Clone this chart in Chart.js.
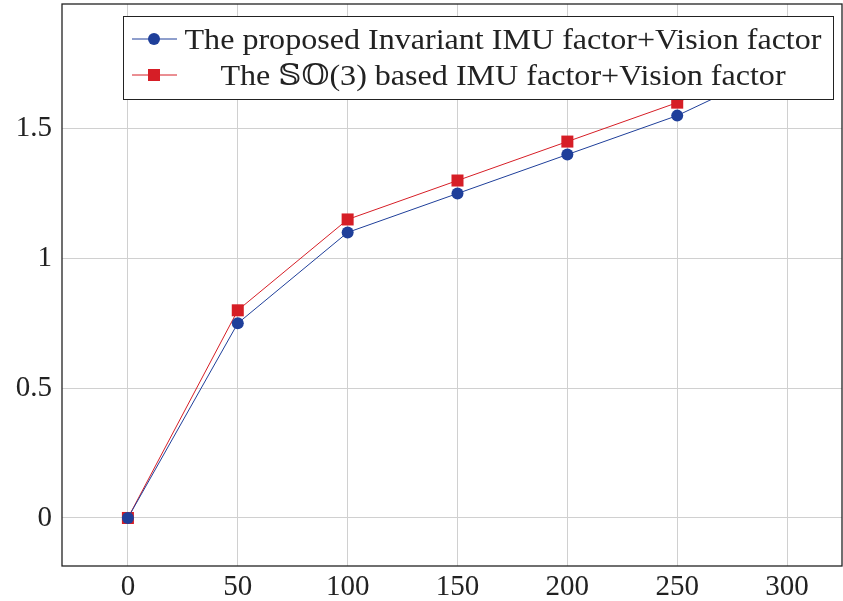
<!DOCTYPE html>
<html>
<head>
<meta charset="utf-8">
<script src="https://cdn.jsdelivr.net/npm/chart.js@4/dist/chart.umd.min.js"></script>
<style>
    html, body { margin: 0; padding: 0; background: #fff; }
    #wrap { width: 843px; height: 601px; }
</style>
</head>
<body>
<div id="wrap"><canvas id="chart"></canvas></div>
<script>
const xValues = [0, 50, 100, 150, 200, 250, 300];
const invariantValues = [0, 0.75, 1.1, 1.25, 1.4, 1.55, 1.75];
const so3Values = [0, 0.8, 1.15, 1.3, 1.45, 1.6, 1.8];
const xTicks = [0, 50, 100, 150, 200, 250, 300];
const yTicks = [0, 0.5, 1, 1.5];
const seriesLabels = [
    'The proposed Invariant IMU factor+Vision factor',
    'The \u{1D54A}\u{1D546}(3) based IMU factor+Vision factor'
];

const blue = 'rgb(31,63,154)';
const red = 'rgb(214,30,38)';
const fontFamily = '"Liberation Serif", "DejaVu Serif", serif';

function toPoints(xs, ys) {
    return xs.map((x, i) => ({x: x, y: ys[i]}));
}

// frame round the plot and the legend box inside it
const framePlugin = {
    id: 'frame',
    afterDatasetsDraw(chart) {
        const {ctx, chartArea} = chart;
        ctx.save();
        ctx.strokeStyle = '#222';
        ctx.lineWidth = 1.3;
        ctx.strokeRect(chartArea.left, chartArea.top, chartArea.right - chartArea.left, chartArea.bottom - chartArea.top);

        // legend
        const box = {x: 123, y: 16, w: 710, h: 83};
        ctx.fillStyle = '#fff';
        ctx.fillRect(box.x, box.y, box.w, box.h);
        ctx.strokeStyle = '#222';
        ctx.lineWidth = 1;
        ctx.strokeRect(box.x + 0.5, box.y + 0.5, box.w, box.h);

        ctx.font = '29px ' + fontFamily;
        const stretch = 637 / ctx.measureText(seriesLabels[0]).width;
        const rows = [39, 75];
        chart.data.datasets.forEach((ds, i) => {
            const cy = rows[i];
            ctx.strokeStyle = ds.borderColor;
            ctx.lineWidth = 1;
            ctx.beginPath();
            ctx.moveTo(132, cy);
            ctx.lineTo(177, cy);
            ctx.stroke();
            ctx.fillStyle = ds.backgroundColor;
            if (ds.pointStyle === 'rect') {
                ctx.fillRect(154 - 6, cy - 6, 12, 12);
            } else {
                ctx.beginPath();
                ctx.arc(154, cy, 6, 0, Math.PI * 2);
                ctx.fill();
            }
            ctx.save();
            ctx.translate(503, cy + 2);
            ctx.scale(stretch, 1);
            ctx.fillStyle = '#222';
            ctx.textAlign = 'center';
            ctx.textBaseline = 'middle';
            ctx.fillText(ds.label, 0, 0);
            ctx.restore();
        });
        ctx.restore();
    }
};

new Chart(document.getElementById('chart'), {
    type: 'line',
    data: {
        datasets: [
            {
                label: seriesLabels[0],
                data: toPoints(xValues, invariantValues),
                borderColor: blue,
                backgroundColor: blue,
                borderWidth: 1,
                pointStyle: 'circle',
                pointRadius: 6,
                pointBorderWidth: 0,
                tension: 0
            },
            {
                label: seriesLabels[1],
                data: toPoints(xValues, so3Values),
                borderColor: red,
                backgroundColor: red,
                borderWidth: 1,
                pointStyle: 'rect',
                pointRadius: 8.5,
                pointBorderWidth: 0,
                tension: 0
            }
        ]
    },
    options: {
        responsive: true,
        maintainAspectRatio: false,
        animation: false,
        layout: {autoPadding: false, padding: {top: 4, right: 1, left: 0, bottom: 0}},
        plugins: {
            legend: {display: false},
            tooltip: {enabled: false}
        },
        scales: {
            x: {
                type: 'linear',
                min: -30,
                max: 325,
                afterBuildTicks: scale => { scale.ticks = xTicks.map(v => ({value: v})); },
                afterFit: scale => {
                    scale.height = 35;
                    scale.paddingLeft = 0;
                    scale.paddingRight = 0;
                },
                grid: {color: '#d0d0d0', lineWidth: 1, drawTicks: false},
                border: {display: false},
                ticks: {
                    color: '#222',
                    padding: 4,
                    maxRotation: 0,
                    font: {family: fontFamily, size: 29}
                }
            },
            y: {
                min: -0.185,
                max: 1.98,
                afterBuildTicks: scale => { scale.ticks = yTicks.map(v => ({value: v})); },
                afterFit: scale => {
                    scale.width = 62;
                    scale.paddingTop = 0;
                    scale.paddingBottom = 0;
                },
                grid: {color: '#d0d0d0', lineWidth: 1, drawTicks: false},
                border: {display: false},
                ticks: {
                    color: '#222',
                    padding: 10,
                    font: {family: fontFamily, size: 29},
                    callback: v => String(v)
                }
            }
        }
    },
    plugins: [framePlugin]
});
</script>
</body>
</html>
